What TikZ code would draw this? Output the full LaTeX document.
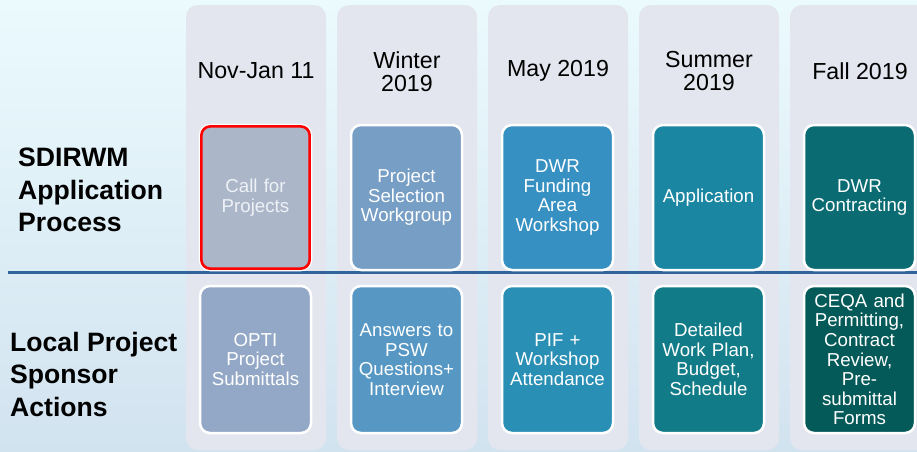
\documentclass[tikz,border=0pt]{standalone}
\usepackage{fontspec}
\setmainfont{Liberation Sans}
\begin{document}
\begin{tikzpicture}[x=1pt,y=-1pt,
  colbox/.style={fill=colgrey,draw=none,rounded corners=12pt},
  stepbox/.style={draw=white,line width=2.5pt,rounded corners=10pt,minimum width=111pt,text width=108pt,align=center,text=white,inner sep=0pt,font=\fontsize{18.7}{19.6}\selectfont},
  toprow/.style={stepbox,minimum height=145pt},
  botrow/.style={stepbox,minimum height=147pt},
  title/.style={align=center,font=\fontsize{23.2}{23}\selectfont,text=black},
  rowlabel/.style={anchor=west,align=left,font=\fontsize{26.6}{32.5}\selectfont\bfseries,text=black,inner sep=0pt}]
\definecolor{colgrey}{HTML}{E3E6EE}
\definecolor{bgtop}{HTML}{EBFAFD}
\definecolor{bgbot}{HTML}{D2E3F0}
\definecolor{lineblue}{HTML}{31649A}
\definecolor{ta}{HTML}{ABB7C9}
\definecolor{tb}{HTML}{779EC4}
\definecolor{tc}{HTML}{3790C2}
\definecolor{td}{HTML}{1A86A1}
\definecolor{te}{HTML}{0A6C72}
\definecolor{ba}{HTML}{93A8C6}
\definecolor{bb}{HTML}{5697C3}
\definecolor{bc}{HTML}{2A8FB5}
\definecolor{bd}{HTML}{127B88}
\definecolor{be}{HTML}{045A58}
\definecolor{paletext}{HTML}{EEF1F6}
\useasboundingbox (0,0) rectangle (917,451);
\shade[top color=bgtop,bottom color=bgbot] (0,0) rectangle (917,451);
% columns
\foreach \x in {186,337,488,639,790}{
  \fill[colbox] (\x,5) rectangle (\x+140,450);
}
% titles
\node[title] (t1) at (256,71) {Nov-Jan 11};
\node[title] (t2) at (407,71.5) {Winter\\2019};
\node[title] (t3) at (558,71) {May 2019};
\node[title] (t4) at (709,71.5) {Summer\\2019};
\node[title] (t5) at (860,71) {Fall 2019};
% divider
\coordinate (la) at (8,272.5);
\coordinate (lb) at (917,272.5);
\draw[lineblue,line width=3pt] (la) -- (lb);
% top row
\node[toprow,fill=ta,text=paletext] (a1) at (255.5,197.5) {Call for\\Projects};
\draw[red,line width=2.6pt,rounded corners=9pt] ([xshift=2.6pt,yshift=-2.6pt]a1.north west) rectangle ([xshift=-2.6pt,yshift=2.6pt]a1.south east);
\node[toprow,fill=tb] (a2) at (406.5,197.5) {Project\\Selection\\Workgroup};
\node[toprow,fill=tc] (a3) at (557.5,197.5) {DWR\\Funding\\Area\\Workshop};
\node[toprow,fill=td] (a4) at (708.5,197.5) {Application};
\node[toprow,fill=te] (a5) at (859.5,197.5) {DWR\\Contracting};
% bottom row
\node[botrow,fill=ba] (b1) at (255.5,359.5) {OPTI\\Project\\Submittals};
\node[botrow,fill=bb] (b2) at (406.5,359.5) {Answers to\\PSW\\Questions+\\Interview};
\node[botrow,fill=bc] (b3) at (557.5,359.5) {PIF +\\Workshop\\Attendance};
\node[botrow,fill=bd] (b4) at (708.5,359.5) {Detailed\\Work Plan,\\Budget,\\Schedule};
\node[botrow,fill=be] (b5) at (859.5,359.5) {CEQA and\\Permitting,\\Contract\\Review,\\Pre-\\submittal\\Forms};
% row labels
\node[rowlabel] (l1) at (18,190) {SDIRWM\\Application\\Process};
\node[rowlabel] (l2) at (10,374) {Local Project\\Sponsor\\Actions};
\end{tikzpicture}
\end{document}
